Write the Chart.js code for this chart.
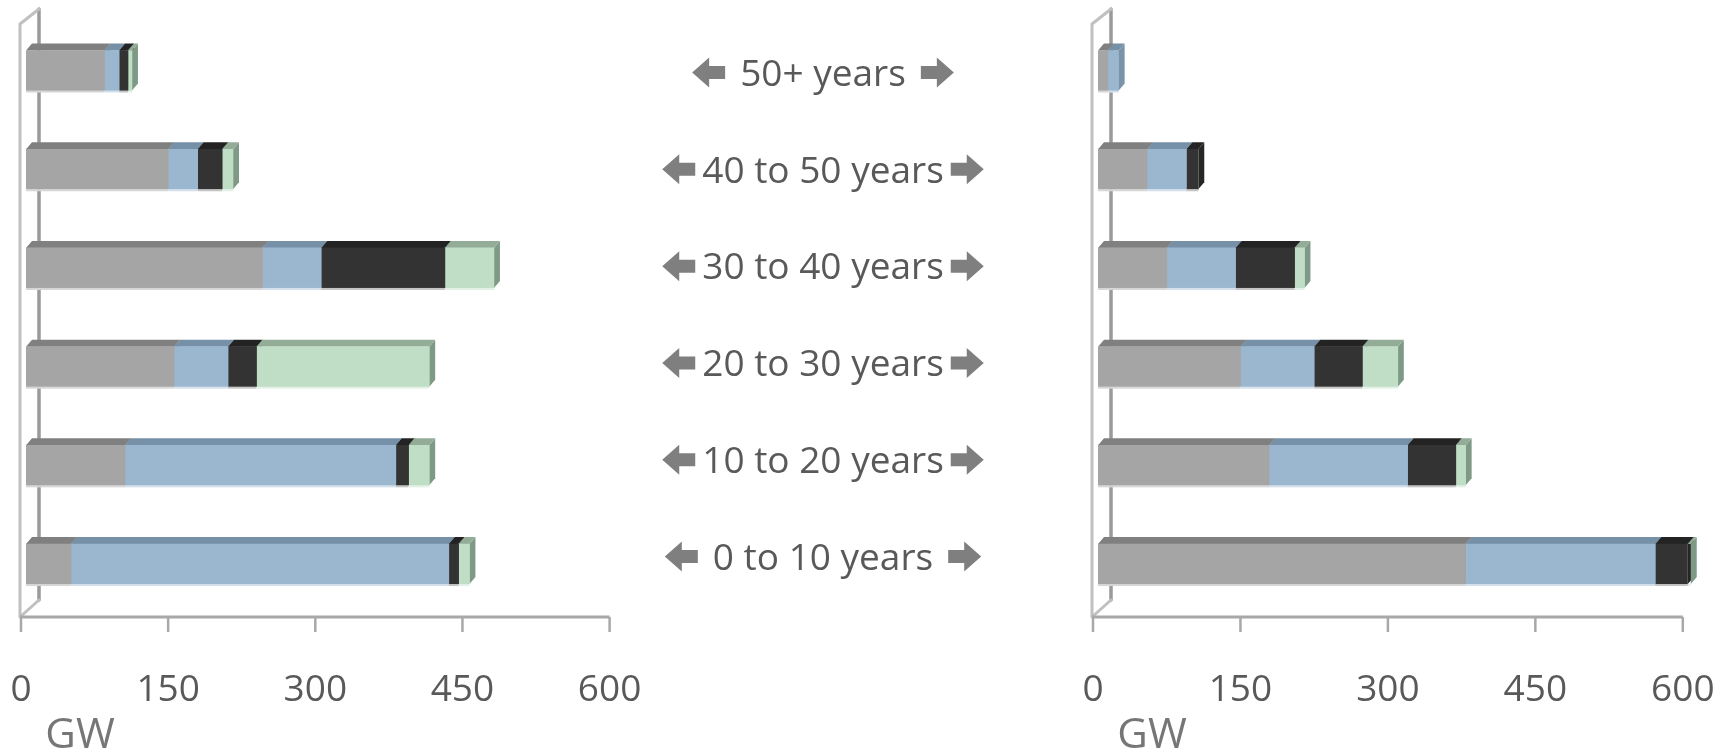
<!DOCTYPE html>
<html>
<head>
<meta charset="utf-8">
<script src="https://cdn.jsdelivr.net/npm/chart.js@4.4.1/dist/chart.umd.min.js"></script>
<style>
  html, body { margin: 0; padding: 0; background: #ffffff; overflow: hidden; }
  #wrap { position: relative; width: 1726px; height: 752px; }
  canvas { position: absolute; top: 0; }
  #left { left: 0; }
  #right { left: 1000px; }
</style>
</head>
<body>
<div id="wrap">
  <canvas id="left" width="1000" height="752"></canvas>
  <canvas id="right" width="726" height="752"></canvas>
</div>
<script>
// Age bands of installed capacity, oldest at the top
const AGE_BANDS = ['50+ years', '40 to 50 years', '30 to 40 years', '20 to 30 years', '10 to 20 years', '0 to 10 years'];
const X_TICKS = [0, 150, 300, 450, 600];
const UNIT = 'GW';

// Left panel (GW per age band)
const LEFT_GRAY  = [80, 145, 241, 151, 101, 46];
const LEFT_BLUE  = [15, 30, 60, 55, 276, 385];
const LEFT_BLACK = [9, 25, 126, 29, 13, 10];
const LEFT_GREEN = [4, 11, 50, 176, 21, 11];

// Right panel (GW per age band)
const RIGHT_GRAY  = [10, 50, 70, 145, 174, 374];
const RIGHT_BLUE  = [11, 40, 70, 75, 141, 193];
const RIGHT_BLACK = [0, 12, 60, 49, 49, 33];
const RIGHT_GREEN = [0, 0, 10, 36, 10, 3];

// face colours for the extruded bars: front, top, side, bottom glint
const SHADES = [
  { front: '#a5a5a5', top: '#808080', side: '#8a8a8a', glint: '#d6d6d6' },
  { front: '#9bb6cf', top: '#7590a7', side: '#7a93a8', glint: '#d3e0ec' },
  { front: '#333333', top: '#232323', side: '#262626', glint: '#c4c4c4' },
  { front: '#bfdec5', top: '#93ac98', side: '#7e9985', glint: '#e2f0e5' }
];

const DEPTH_X = 6, DEPTH_Y = 7;     // extrusion of each bar
const FRONT_SHIFT = 5;              // floor front edge sits left of the bar faces
const AXIS_Y = 617;
const WALL_FRONT_TOP = 24, WALL_BACK_TOP = 9, WALL_BACK_BOTTOM = 600;
const TEXT = '#595959';

function poly(ctx, pts, fill) {
  ctx.beginPath();
  ctx.moveTo(pts[0][0], pts[0][1]);
  for (let i = 1; i < pts.length; i++) ctx.lineTo(pts[i][0], pts[i][1]);
  ctx.closePath();
  ctx.fillStyle = fill;
  ctx.fill();
}

function line(ctx, pts, color, width) {
  ctx.beginPath();
  ctx.moveTo(pts[0][0], pts[0][1]);
  for (let i = 1; i < pts.length; i++) ctx.lineTo(pts[i][0], pts[i][1]);
  ctx.strokeStyle = color;
  ctx.lineWidth = width;
  ctx.stroke();
}

// thin side wall of the plot box, drawn first so the bars pass in front of it
const wall = {
  id: 'wall',
  beforeDatasetsDraw(chart) {
    const ctx = chart.ctx;
    const z = chart.scales.x.getPixelForValue(0);
    const fx = z - 6, bx = z + 13;
    ctx.save();
    ctx.lineCap = 'round';
    ctx.lineJoin = 'round';
    line(ctx, [[bx, WALL_BACK_TOP], [bx, WALL_BACK_BOTTOM]], '#9a9a9a', 3.5);
    line(ctx, [[bx, WALL_BACK_TOP], [fx, WALL_FRONT_TOP], [fx, AXIS_Y], [bx, WALL_BACK_BOTTOM]], '#c0c0c0', 3);
    ctx.restore();
  }
};

// tops and end caps of the stacked bars, drawn before the flat fronts
const bar3d = {
  id: 'bar3d',
  beforeDatasetsDraw(chart) {
    const ctx = chart.ctx;
    const n = chart.data.labels.length;
    ctx.save();
    for (let i = 0; i < n; i++) {
      chart.data.datasets.forEach((ds, d) => {
        const el = chart.getDatasetMeta(d).data[i];
        const p = el.getProps(['x', 'y', 'base', 'height'], true);
        const xl = Math.min(p.base, p.x), xr = Math.max(p.base, p.x);
        if (xr - xl < 0.3) return;
        const yt = p.y - p.height / 2, yb = p.y + p.height / 2;
        const s = SHADES[d];
        poly(ctx, [[xr, yt], [xr + DEPTH_X, yt - DEPTH_Y], [xr + DEPTH_X, yb - DEPTH_Y], [xr, yb]], s.side);
        poly(ctx, [[xl, yt], [xr, yt], [xr + DEPTH_X, yt - DEPTH_Y], [xl + DEPTH_X, yt - DEPTH_Y]], s.top);
      });
    }
    ctx.restore();
  },
  afterDatasetsDraw(chart) {
    const ctx = chart.ctx;
    ctx.save();
    chart.data.datasets.forEach((ds, d) => {
      chart.getDatasetMeta(d).data.forEach(el => {
        const p = el.getProps(['x', 'y', 'base', 'height'], true);
        const xl = Math.min(p.base, p.x), xr = Math.max(p.base, p.x);
        if (xr - xl < 0.3) return;
        ctx.fillStyle = SHADES[d].glint;
        ctx.fillRect(xl, p.y + p.height / 2, xr - xl, 2);
      });
    });
    ctx.restore();
  }
};

// floor edge, ticks and value labels
const floorAxis = {
  id: 'floorAxis',
  afterDraw(chart) {
    const ctx = chart.ctx;
    const xs = chart.scales.x;
    const z = xs.getPixelForValue(0);
    ctx.save();
    line(ctx, [[z - 6, AXIS_Y], [xs.getPixelForValue(600) - FRONT_SHIFT, AXIS_Y]], '#a8a8a8', 3);
    ctx.font = '37px "Open Sans"';
    ctx.fillStyle = TEXT;
    ctx.textAlign = 'center';
    ctx.textBaseline = 'alphabetic';
    xs.ticks.forEach(t => {
      const px = xs.getPixelForValue(t.value) - FRONT_SHIFT;
      line(ctx, [[px, AXIS_Y], [px, AXIS_Y + 15]], '#a8a8a8', 2.5);
      ctx.fillText(String(t.value), px, 701);
    });
    ctx.font = '42px "Open Sans"';
    ctx.fillStyle = '#767676';
    ctx.fillText(UNIT, z - FRONT_SHIFT + 59, 748);
    ctx.restore();
  }
};

// age band names with block arrows pointing to both panels
const bandLabels = {
  id: 'bandLabels',
  afterDraw(chart, args, opts) {
    if (!opts.show) return;
    const ctx = chart.ctx;
    const ys = chart.scales.y;
    const cx = 823;
    ctx.save();
    ctx.font = '37px "Open Sans"';
    ctx.textAlign = 'center';
    ctx.textBaseline = 'alphabetic';
    chart.data.labels.forEach((lab, i) => {
      // the label column runs slightly tighter than the bar rows
      const cy = ys.getPixelForValue(i) + 2 - i * 1.9;
      const w = ctx.measureText(lab).width;
      ctx.fillStyle = TEXT;
      ctx.fillText(lab, cx, cy + 13.2);
      const gap = w < 225 ? 15 : 7;
      const l = cx - w / 2 - gap;   // inner end of left arrow
      const r = cx + w / 2 + gap;   // inner end of right arrow
      const shaft = 16, head = 17, hh = 15, sh = 6.5;
      poly(ctx, [[l, cy - sh], [l - shaft, cy - sh], [l - shaft, cy - hh], [l - shaft - head, cy],
                 [l - shaft, cy + hh], [l - shaft, cy + sh], [l, cy + sh]], '#7f7f7f');
      poly(ctx, [[r, cy - sh], [r + shaft, cy - sh], [r + shaft, cy - hh], [r + shaft + head, cy],
                 [r + shaft, cy + hh], [r + shaft, cy + sh], [r, cy + sh]], '#7f7f7f');
    });
    ctx.restore();
  }
};

function makePanel(canvasId, series, pad, showBands) {
  const datasets = series.map((vals, k) => ({
    data: vals,
    backgroundColor: SHADES[k].front,
    borderWidth: 0,
    barThickness: 40,
    stack: 'age'
  }));
  return new Chart(document.getElementById(canvasId), {
    type: 'bar',
    data: { labels: AGE_BANDS, datasets },
    options: {
      indexAxis: 'y',
      responsive: false,
      animation: false,
      events: [],
      layout: { padding: pad },
      scales: {
        x: {
          type: 'linear', min: 0, max: 600, stacked: true, display: false,
          afterBuildTicks: s => { s.ticks = X_TICKS.map(v => ({ value: v })); }
        },
        y: { type: 'category', stacked: true, display: false }
      },
      plugins: {
        legend: { display: false },
        tooltip: { enabled: false },
        bandLabels: { show: showBands }
      }
    },
    plugins: [wall, bar3d, floorAxis, bandLabels]
  });
}

makePanel('left', [LEFT_GRAY, LEFT_BLUE, LEFT_BLACK, LEFT_GREEN],
  { left: 26, right: 1000 - (26 + 600 * 0.981), top: 21.2, bottom: 752 - 613.4 }, true);
makePanel('right', [RIGHT_GRAY, RIGHT_BLUE, RIGHT_BLACK, RIGHT_GREEN],
  { left: 98, right: 726 - (98 + 600 * 0.983), top: 21.2, bottom: 752 - 613.4 }, false);
</script>
</body>
</html>
